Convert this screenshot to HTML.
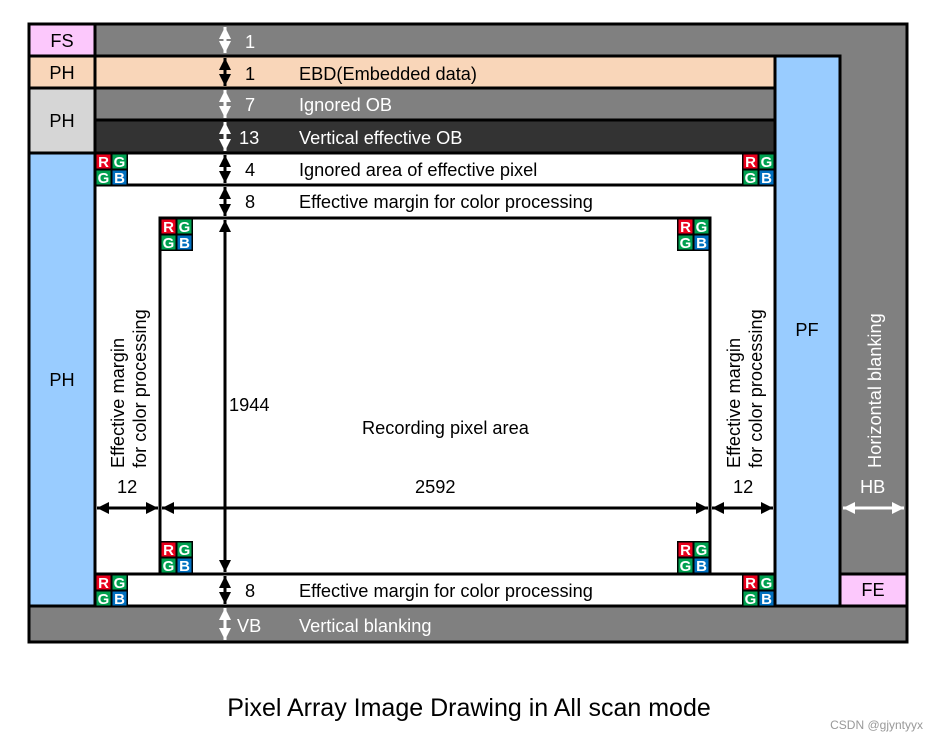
<!DOCTYPE html>
<html><head><meta charset="utf-8"><style>
html,body{margin:0;padding:0;background:#fff;}
svg{display:block;font-family:"Liberation Sans",Arial,sans-serif;}
</style></head><body>
<svg width="939" height="742" viewBox="0 0 939 742" xmlns="http://www.w3.org/2000/svg">
<defs>
<marker id="ab" viewBox="0 0 10 10" refX="10" refY="5" markerWidth="4" markerHeight="4" orient="auto-start-reverse" markerUnits="strokeWidth"><path d="M0,0 L10,5 L0,10 z" fill="#000"/></marker>
<marker id="aw" viewBox="0 0 10 10" refX="10" refY="5" markerWidth="4" markerHeight="4" orient="auto-start-reverse" markerUnits="strokeWidth"><path d="M0,0 L10,5 L0,10 z" fill="#fff"/></marker>
<g id="t">
<rect x="0" y="0" width="33" height="33" fill="#000"/>
<rect x="1.5" y="1.5" width="14" height="14" fill="#e8001c"/>
<rect x="17.5" y="1.5" width="14" height="14" fill="#00a050"/>
<rect x="1.5" y="17.5" width="14" height="14" fill="#00a050"/>
<rect x="17.5" y="17.5" width="14" height="14" fill="#0070c0"/>
<g fill="#fff" font-weight="bold" font-size="15" text-anchor="middle">
<text x="8.5" y="14">R</text><text x="24.5" y="14">G</text><text x="8.5" y="30">G</text><text x="24.5" y="30">B</text></g>
</g>
</defs>
<rect x="29" y="24" width="878" height="618" fill="#808080" stroke="#000" stroke-width="3"/>
<rect x="29" y="24" width="66" height="32" fill="#fcc8fc" stroke="#000" stroke-width="3"/>
<rect x="29" y="56" width="66" height="32" fill="#f9d6b9" stroke="#000" stroke-width="3"/>
<rect x="29" y="88" width="66" height="65" fill="#d6d6d6" stroke="#000" stroke-width="3"/>
<rect x="29" y="153" width="66" height="453" fill="#99ccff" stroke="#000" stroke-width="3"/>
<rect x="95" y="56" width="680" height="32" fill="#f9d6b9" stroke="#000" stroke-width="3"/>
<rect x="95" y="88" width="680" height="32" fill="#808080" stroke="#000" stroke-width="3"/>
<rect x="95" y="120" width="680" height="33" fill="#333" stroke="#000" stroke-width="3"/>
<rect x="95" y="153" width="680" height="453" fill="#fff" stroke="#000" stroke-width="3"/>
<line x1="95" y1="185" x2="775" y2="185" stroke="#000" stroke-width="3"/>
<line x1="95" y1="574" x2="775" y2="574" stroke="#000" stroke-width="3"/>
<rect x="160" y="218" width="550" height="356" fill="#fff" stroke="#000" stroke-width="3"/>
<rect x="775" y="56" width="65" height="550" fill="#99ccff" stroke="#000" stroke-width="3"/>
<rect x="840" y="574" width="67" height="32" fill="#fcc8fc" stroke="#000" stroke-width="3"/>
<rect x="29" y="606" width="878" height="36" fill="#808080" stroke="#000" stroke-width="3"/>
<use href="#t" x="95" y="153"/><use href="#t" x="742" y="153"/>
<use href="#t" x="160" y="218"/><use href="#t" x="677" y="218"/>
<use href="#t" x="160" y="541"/><use href="#t" x="677" y="541"/>
<use href="#t" x="95" y="574"/><use href="#t" x="742" y="574"/>
<g stroke-width="3">
<line x1="225" y1="27" x2="225" y2="53" stroke="#fff" marker-start="url(#aw)" marker-end="url(#aw)"/>
<line x1="225" y1="58" x2="225" y2="86" stroke="#000" marker-start="url(#ab)" marker-end="url(#ab)"/>
<line x1="225" y1="90" x2="225" y2="118" stroke="#fff" marker-start="url(#aw)" marker-end="url(#aw)"/>
<line x1="225" y1="122" x2="225" y2="151" stroke="#fff" marker-start="url(#aw)" marker-end="url(#aw)"/>
<line x1="225" y1="155" x2="225" y2="183" stroke="#000" marker-start="url(#ab)" marker-end="url(#ab)"/>
<line x1="225" y1="187" x2="225" y2="216" stroke="#000" marker-start="url(#ab)" marker-end="url(#ab)"/>
<line x1="225" y1="220" x2="225" y2="572" stroke="#000" marker-start="url(#ab)" marker-end="url(#ab)"/>
<line x1="225" y1="576" x2="225" y2="604" stroke="#000" marker-start="url(#ab)" marker-end="url(#ab)"/>
<line x1="225" y1="608" x2="225" y2="640" stroke="#fff" marker-start="url(#aw)" marker-end="url(#aw)"/>
<line x1="97" y1="508" x2="158" y2="508" stroke="#000" marker-start="url(#ab)" marker-end="url(#ab)"/>
<line x1="162" y1="508" x2="708" y2="508" stroke="#000" marker-start="url(#ab)" marker-end="url(#ab)"/>
<line x1="712" y1="508" x2="773" y2="508" stroke="#000" marker-start="url(#ab)" marker-end="url(#ab)"/>
<line x1="843" y1="508" x2="904" y2="508" stroke="#fff" marker-start="url(#aw)" marker-end="url(#aw)"/>
</g>
<g font-size="18.2" fill="#000">
<text x="62" y="47" text-anchor="middle">FS</text>
<text x="62" y="79" text-anchor="middle">PH</text>
<text x="62" y="127" text-anchor="middle">PH</text>
<text x="62" y="386" text-anchor="middle">PH</text>
<text x="807" y="336" text-anchor="middle">PF</text>
<text x="873" y="596" text-anchor="middle">FE</text>
<text x="245" y="48" fill="#fff">1</text>
<text x="245" y="80">1</text>
<text x="299" y="80">EBD(Embedded data)</text>
<text x="245" y="111" fill="#fff">7</text>
<text x="299" y="111" fill="#fff">Ignored OB</text>
<text x="239" y="144" fill="#fff">13</text>
<text x="299" y="144" fill="#fff">Vertical effective OB</text>
<text x="245" y="176">4</text>
<text x="299" y="176">Ignored area of effective pixel</text>
<text x="245" y="208">8</text>
<text x="299" y="208">Effective margin for color processing</text>
<text x="229" y="411">1944</text>
<text x="362" y="434">Recording pixel area</text>
<text x="415" y="493">2592</text>
<text x="117" y="493">12</text>
<text x="733" y="493">12</text>
<text x="245" y="597">8</text>
<text x="299" y="597">Effective margin for color processing</text>
<text x="237" y="632" fill="#fff">VB</text>
<text x="299" y="632" fill="#fff">Vertical blanking</text>
<text x="860" y="493" fill="#fff">HB</text>
<text transform="translate(124,468) rotate(-90)">Effective margin</text>
<text transform="translate(146,468) rotate(-90)">for color processing</text>
<text transform="translate(740,468) rotate(-90)">Effective margin</text>
<text transform="translate(762,468) rotate(-90)">for color processing</text>
<text transform="translate(881,468) rotate(-90)" fill="#fff">Horizontal blanking</text>
</g>
<text x="469" y="716" font-size="25" text-anchor="middle" fill="#000">Pixel Array Image Drawing in All scan mode</text>
<text x="923" y="729" font-size="12" text-anchor="end" fill="#999">CSDN @gjyntyyx</text>
</svg>
</body></html>
